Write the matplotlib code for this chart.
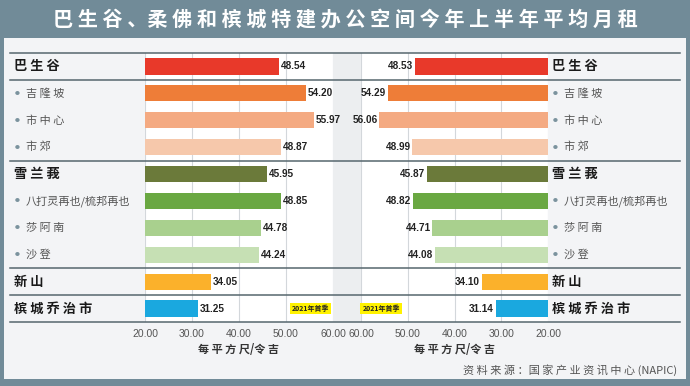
import matplotlib.pyplot as plt
from matplotlib.lines import Line2D
from matplotlib.patches import Rectangle
from matplotlib.transforms import blended_transform_factory

plt.rcParams['font.family'] = ['Noto Sans CJK SC', 'DejaVu Sans']

labels = ["巴生谷", "吉隆坡", "市中心", "市郊", "雪兰莪", "八打灵再也/梳邦再也",
          "莎阿南", "沙登", "新山", "槟城乔治市"]
is_header = [True, False, False, False, True, False, False, False, True, True]
q1_vals = [48.54, 54.20, 55.97, 48.87, 45.95, 48.85, 44.78, 44.24, 34.05, 31.25]
q2_vals = [48.53, 54.29, 56.06, 48.99, 45.87, 48.82, 44.71, 44.08, 34.10, 31.14]
colors = ["#e8392a", "#ee7d38", "#f4aa82", "#f6c8ab", "#6b7a3a", "#6aa842",
          "#a9d08e", "#c6e0b4", "#fbb12b", "#1aa8df"]
ticks = [20, 30, 40, 50, 60]
legend_text = "2021年首季"
unit = "每平方尺/令吉"
title = "巴生谷、柔佛和槟城特建办公空间今年上半年平均月租"
source = "资料来源：国家产业资讯中心(NAPIC)"

W, H = 690, 386
fig = plt.figure(figsize=(W / 100, H / 100), dpi=100)
fig.patch.set_facecolor("#718b98")


def fx(px):
    return px / W


def fy(py):
    return 1 - py / H


def spaced(s):
    return " ".join(s).replace(" / ", "/").replace("、 ", "、")


# light panel
fig.add_artist(Rectangle((fx(4), fy(379)), fx(682), (379 - 38) / H,
                         transform=fig.transFigure, facecolor="#f3f4f6",
                         edgecolor="none", zorder=0))
# gap between the two charts
fig.add_artist(Rectangle((fx(333), fy(322)), fx(28), (322 - 53) / H,
                         transform=fig.transFigure, facecolor="#eceef0",
                         edgecolor="none", zorder=0))

fig.text(0.5, fy(19), spaced(title), color="white",
         fontsize=14.5, fontweight="bold", ha="center", va="center")

top, bot = 53, 322
ax1 = fig.add_axes([fx(145), fy(bot), fx(333 - 145), (bot - top) / H])
ax2 = fig.add_axes([fx(361), fy(bot), fx(548 - 361), (bot - top) / H])

n = len(labels)
for ax, vals, inv in [(ax1, q1_vals, False), (ax2, q2_vals, True)]:
    ax.set_facecolor("white")
    ax.set_ylim(n - 0.5, -0.5)
    ax.set_xlim((60, 20) if inv else (20, 60))
    for t in ticks:
        ax.axvline(t, color="#d3d7db", lw=0.8, zorder=1)
    ax.barh(range(n), [v - 20 for v in vals], left=20, height=0.6,
            color=colors, zorder=2)
    for i, v in enumerate(vals):
        ax.text(v + 0.4, i, f"{v:.2f}", va="center",
                ha="right" if inv else "left", fontsize=7.2,
                color="#222222", fontweight="bold",
                family="Liberation Sans", zorder=3)
    ax.set_xticks(ticks)
    ax.set_xticklabels([f"{t:.2f}" for t in ticks], fontsize=7.5,
                       color="#555555", family="Liberation Sans")
    ax.tick_params(axis="x", length=0, pad=5)
    ax.set_yticks([])
    ax.set_xlabel(spaced(unit), fontsize=8,
                  fontweight="bold", color="#333333", labelpad=3)
    for s in ax.spines.values():
        s.set_visible(False)

box = dict(boxstyle="square,pad=0.3", fc="#fff200", ec="none")
ax1.text(55.2, 9, legend_text, ha="center", va="center", fontsize=5,
         fontweight="bold", color="#222222", zorder=4, bbox=box)
ax2.text(55.7, 9, legend_text, ha="center", va="center", fontsize=5,
         fontweight="bold", color="#222222", zorder=4, bbox=box)

tr = blended_transform_factory(fig.transFigure, ax1.transData)
for b in [-0.5, 0.5, 3.5, 7.5, 8.5, 9.5]:
    fig.add_artist(Line2D([fx(10), fx(680)], [b, b], transform=tr,
                          color="#56676e", lw=1.1, zorder=5))

for i, (lab, hd) in enumerate(zip(labels, is_header)):
    txt = spaced(lab) if len(lab) < 6 else lab
    for x0 in (14, 552):
        if hd:
            fig.text(fx(x0), i, txt, transform=tr, va="center", ha="left",
                     fontsize=9.5, fontweight="bold", color="#1a1a1a")
        else:
            fig.text(fx(x0 + 1), i, "●", transform=tr, va="center",
                     ha="left", fontsize=3.5, color="#7b939e")
            fig.text(fx(x0 + 12), i, txt, transform=tr, va="center",
                     ha="left", fontsize=8, color="#555555")

fig.text(fx(677), fy(370), spaced(source).replace("： ", "：")
         .replace("( N A P I C )", "(NAPIC)"), ha="right", va="center",
         fontsize=8, color="#555555")

fig.savefig("out.png", dpi=100, facecolor=fig.get_facecolor())
